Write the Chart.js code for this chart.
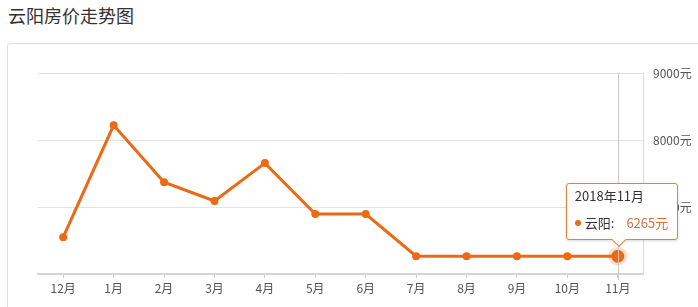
<!DOCTYPE html>
<html>
<head>
<meta charset="utf-8">
<script src="https://cdn.jsdelivr.net/npm/chart.js@4/dist/chart.umd.min.js"></script>
<style>
  html, body { margin: 0; padding: 0; background: #fff; }
  body { width: 698px; height: 307px; position: relative; overflow: hidden; font-family: "Noto Sans CJK SC", "Noto Sans", sans-serif; }
  #title { position: absolute; left: 8px; top: 3px; font-size: 18px; color: #333; line-height: 24px; }
  #box { position: absolute; left: 7px; top: 43px; width: 720px; height: 300px; border: 1px solid #dedede; border-radius: 3px; }
  #wrap { position: absolute; left: 0; top: 0; width: 698px; height: 307px; }
  #tip { position: absolute; background: #fff; border: 1px solid #e0823c; border-radius: 3px; padding: 4px 9px 8px 8px; font-size: 13px; color: #333; box-shadow: 0 1px 3px rgba(0,0,0,0.15); pointer-events: none; white-space: nowrap; }
  #tip .t { line-height: 16px; margin-bottom: 11px; }
  #tip .b { line-height: 16px; }
  #tip .dot { display: inline-block; width: 6px; height: 6px; border-radius: 3px; background: #ec6a13; margin-right: 4px; vertical-align: 2px; }
  #tip .v { color: #d0733a; margin-left: 12px; }
  #tip .arrow { position: absolute; width: 9px; height: 9px; background: #fff; border-right: 1px solid #e0823c; border-bottom: 1px solid #e0823c; transform: rotate(45deg); bottom: -6px; }
</style>
</head>
<body>
<div id="title">云阳房价走势图</div>
<div id="box"></div>
<div id="wrap"><canvas id="chart" width="698" height="307"></canvas></div>
<script>
const months = ["12月", "1月", "2月", "3月", "4月", "5月", "6月", "7月", "8月", "9月", "10月", "11月"];
const periods = ["2017年12月", "2018年1月", "2018年2月", "2018年3月", "2018年4月", "2018年5月", "2018年6月", "2018年7月", "2018年8月", "2018年9月", "2018年10月", "2018年11月"];
const prices = [6550, 8220, 7370, 7090, 7655, 6895, 6895, 6265, 6265, 6265, 6265, 6265];
const seriesName = "云阳";
const yTicks = [6000, 7000, 8000, 9000];

const lineColor = "#ec6a13";

// vertical line under the hovered point
const crosshair = {
  id: "crosshair",
  afterDatasetsDraw(chart) {
    const act = chart.getActiveElements();
    if (!act.length) return;
    const x = act[0].element.x;
    const { top, bottom } = chart.chartArea;
    const c = chart.ctx;
    c.save();
    c.strokeStyle = "#c8c8c8";
    c.lineWidth = 1;
    c.beginPath();
    c.moveTo(Math.round(x) + 0.5, top);
    c.lineTo(Math.round(x) + 0.5, bottom + 6);
    c.stroke();
    c.restore();
  }
};

function externalTip(context) {
  const tooltip = context.tooltip;
  let el = document.getElementById("tip");
  if (!el) {
    el = document.createElement("div");
    el.id = "tip";
    document.getElementById("wrap").appendChild(el);
  }
  if (tooltip.opacity === 0) { el.style.display = "none"; return; }
  const p = tooltip.dataPoints[0];
  el.innerHTML = '<div class="t">' + periods[p.dataIndex] + '</div>' +
    '<div class="b"><span class="dot"></span>' + seriesName + ':<span class="v">' + prices[p.dataIndex] + '元</span></div>' +
    '<div class="arrow"></div>';
  el.style.display = "block";
  el.style.left = (tooltip.caretX - 52) + "px";
  el.style.top = (tooltip.caretY - 73) + "px";
  el.querySelector(".arrow").style.left = (52 - 5) + "px";
}

const ctx = document.getElementById("chart").getContext("2d");
const chart = new Chart(ctx, {
  type: "line",
  data: {
    labels: months,
    datasets: [{
      label: seriesName,
      data: prices,
      borderColor: lineColor,
      backgroundColor: lineColor,
      borderWidth: 3,
      tension: 0,
      pointRadius: 4,
      pointBackgroundColor: lineColor,
      pointBorderColor: lineColor,
      pointBorderWidth: 0,
      pointHoverRadius: 6.5,
      pointHoverBackgroundColor: lineColor,
      pointHoverBorderColor: "rgba(236,106,19,0.22)",
      pointHoverBorderWidth: 6
    }]
  },
  options: {
    responsive: false,
    animation: false,
    events: [],
    layout: { padding: { left: 38, top: 73, right: 0, bottom: 0 } },
    plugins: {
      legend: { display: false },
      tooltip: { enabled: false, external: externalTip, mode: "index", intersect: false }
    },
    scales: {
      x: {
        offset: true,
        grid: { display: true, drawOnChartArea: false, drawTicks: true, tickLength: 4, offset: false, color: "#cccccc" },
        border: { display: true, color: "#d4d4d4", width: 2 },
        ticks: { color: "#555", font: { size: 12, family: "'Noto Sans CJK SC', sans-serif" }, padding: 3, maxRotation: 0, autoSkip: false },
        afterFit(scale) { scale.height = 33; }
      },
      y: {
        position: "right",
        min: yTicks[0],
        max: yTicks[yTicks.length - 1],
        afterBuildTicks(scale) { scale.ticks = yTicks.map(v => ({ value: v })); },
        grid: { color: "#e3e3e3", drawTicks: false },
        border: { display: true, color: "#dcdcdc", width: 1 },
        ticks: {
          color: "#555",
          padding: 10,
          font: { size: 12, family: "'Noto Sans CJK SC', sans-serif" },
          callback: v => v === yTicks[0] ? "" : v + "元"
        },
        afterFit(scale) { scale.width = 55; }
      }
    }
  },
  plugins: [crosshair]
});

const last = prices.length - 1;
chart.setActiveElements([{ datasetIndex: 0, index: last }]);
chart.tooltip.setActiveElements([{ datasetIndex: 0, index: last }], { x: 0, y: 0 });
chart.update();
</script>
</body>
</html>
